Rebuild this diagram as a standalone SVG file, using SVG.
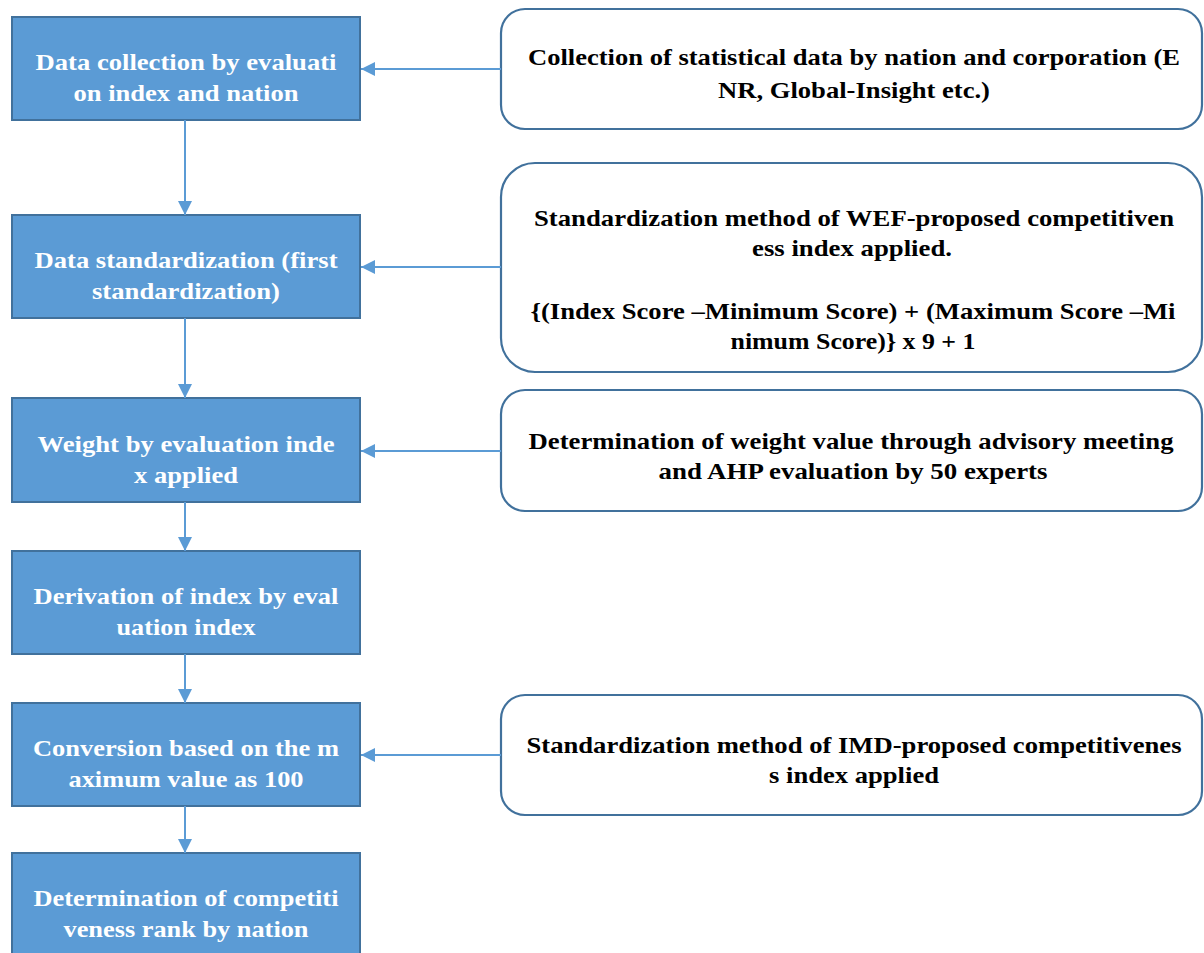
<svg xmlns="http://www.w3.org/2000/svg" width="1204" height="953" viewBox="0 0 1204 953">
<defs>
<style>
.step{fill:#5B9BD5;stroke:#41719C;stroke-width:2}
.note{fill:#FFFFFF;stroke:#41719C;stroke-width:2.2}
.st{font-weight:bold;font-size:24px;fill:#FFFFFF;text-anchor:middle}
.nt{font-weight:bold;font-size:23px;fill:#000000;text-anchor:middle}
.conn{stroke:#5B9BD5;stroke-width:2;fill:none}
</style>
<marker id="ah" viewBox="0 0 14 14" refX="14" refY="7" markerWidth="14" markerHeight="14" markerUnits="userSpaceOnUse" orient="auto">
<path d="M0,0 L14,7 L0,14 Z" fill="#5B9BD5"/>
</marker>
</defs>
<rect width="1204" height="953" fill="#FFFFFF"/>
<g font-family="Liberation Serif, Tinos, Times New Roman, DejaVu Serif, serif">
<g id="s1"><rect class="step" x="12" y="17" width="348" height="103"/>
<text class="st" x="186" y="70" textLength="301" lengthAdjust="spacingAndGlyphs">Data collection by evaluati</text><text class="st" x="186" y="101" textLength="225" lengthAdjust="spacingAndGlyphs">on index and nation</text></g>
<g id="s2"><rect class="step" x="12" y="215" width="348" height="103"/>
<text class="st" x="186" y="268" textLength="303" lengthAdjust="spacingAndGlyphs">Data standardization (first</text><text class="st" x="186" y="299" textLength="188" lengthAdjust="spacingAndGlyphs">standardization)</text></g>
<g id="s3"><rect class="step" x="12" y="398" width="348" height="104"/>
<text class="st" x="186" y="452" textLength="297" lengthAdjust="spacingAndGlyphs">Weight by evaluation inde</text><text class="st" x="186" y="483" textLength="104" lengthAdjust="spacingAndGlyphs">x applied</text></g>
<g id="s4"><rect class="step" x="12" y="551" width="348" height="103"/>
<text class="st" x="186" y="604" textLength="305" lengthAdjust="spacingAndGlyphs">Derivation of index by eval</text><text class="st" x="186" y="635" textLength="139" lengthAdjust="spacingAndGlyphs">uation index</text></g>
<g id="s5"><rect class="step" x="12" y="703" width="348" height="103"/>
<text class="st" x="186" y="756" textLength="306" lengthAdjust="spacingAndGlyphs">Conversion based on the m</text><text class="st" x="186" y="787" textLength="235" lengthAdjust="spacingAndGlyphs">aximum value as 100</text></g>
<g id="s6"><rect class="step" x="12" y="853" width="348" height="110"/>
<text class="st" x="186" y="906" textLength="305" lengthAdjust="spacingAndGlyphs">Determination of competiti</text><text class="st" x="186" y="937" textLength="245" lengthAdjust="spacingAndGlyphs">veness rank by nation</text></g>
<g id="n1"><rect class="note" x="501" y="9" width="701" height="120" rx="24"/>
<text class="nt" x="854" y="65" textLength="652" lengthAdjust="spacingAndGlyphs">Collection of statistical data by nation and corporation (E</text><text class="nt" x="854" y="98" textLength="272" lengthAdjust="spacingAndGlyphs">NR, Global-Insight etc.)</text></g>
<g id="n2"><rect class="note" x="501" y="163" width="701" height="209" rx="34"/>
<text class="nt" x="854" y="226" textLength="640" lengthAdjust="spacingAndGlyphs">Standardization method of WEF-proposed competitiven</text><text class="nt" x="852" y="256" textLength="200" lengthAdjust="spacingAndGlyphs">ess index applied.</text>
<text class="nt" x="853" y="319" textLength="645" lengthAdjust="spacingAndGlyphs">{(Index Score –Minimum Score) + (Maximum Score –Mi</text><text class="nt" x="853" y="349" textLength="245" lengthAdjust="spacingAndGlyphs">nimum Score)} x 9 + 1</text></g>
<g id="n3"><rect class="note" x="501" y="390" width="701" height="121" rx="24"/>
<text class="nt" x="851" y="449" textLength="645" lengthAdjust="spacingAndGlyphs">Determination of weight value through advisory meeting</text><text class="nt" x="853" y="479" textLength="389" lengthAdjust="spacingAndGlyphs">and AHP evaluation by 50 experts</text></g>
<g id="n4"><rect class="note" x="501" y="695" width="701" height="120" rx="24"/>
<text class="nt" x="854" y="753" textLength="655" lengthAdjust="spacingAndGlyphs">Standardization method of IMD-proposed competitivenes</text><text class="nt" x="854" y="783" textLength="170" lengthAdjust="spacingAndGlyphs">s index applied</text></g>
</g>
<g id="connectors">
<line class="conn" x1="185" y1="120" x2="185" y2="215" marker-end="url(#ah)"/>
<line class="conn" x1="185" y1="318" x2="185" y2="398" marker-end="url(#ah)"/>
<line class="conn" x1="185" y1="502" x2="185" y2="551" marker-end="url(#ah)"/>
<line class="conn" x1="185" y1="654" x2="185" y2="703" marker-end="url(#ah)"/>
<line class="conn" x1="185" y1="806" x2="185" y2="853" marker-end="url(#ah)"/>
<line class="conn" x1="501" y1="69" x2="361" y2="69" marker-end="url(#ah)"/>
<line class="conn" x1="501" y1="267" x2="361" y2="267" marker-end="url(#ah)"/>
<line class="conn" x1="501" y1="451" x2="361" y2="451" marker-end="url(#ah)"/>
<line class="conn" x1="501" y1="755" x2="361" y2="755" marker-end="url(#ah)"/>
</g>
</svg>
